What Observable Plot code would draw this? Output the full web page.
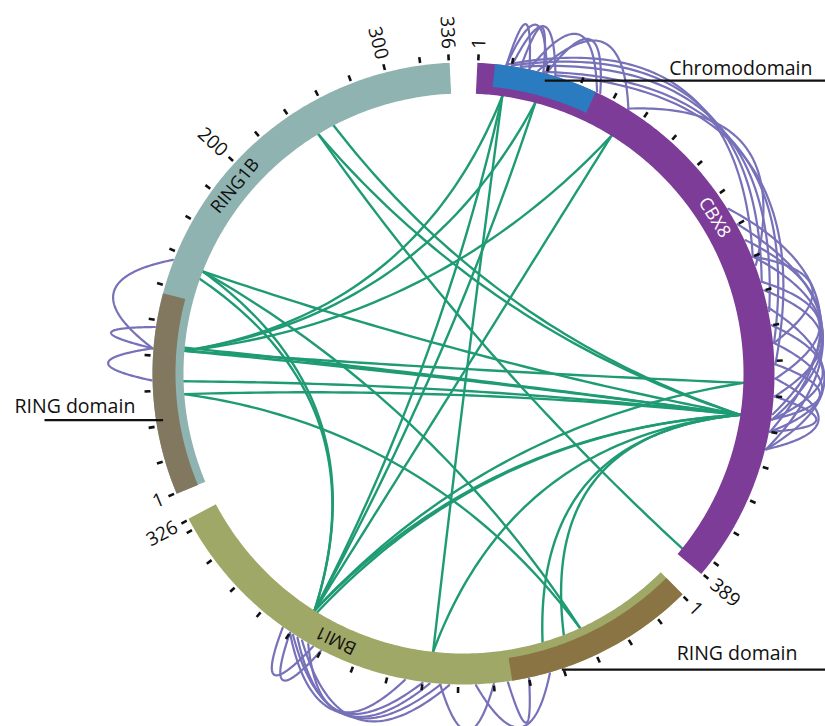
<!DOCTYPE html>
<html><head><meta charset="utf-8">
<script src="https://cdn.jsdelivr.net/npm/d3@7"></script>
<script src="https://cdn.jsdelivr.net/npm/@observablehq/plot@0.6"></script>
<style>html,body{margin:0;padding:0;background:#fff;} #chart svg{display:block;overflow:hidden;}</style>
</head><body><div id="chart"></div>
<script>
// ---------- DATA ----------
const proteins = ["CBX8", "BMI1", "RING1B"];
const lengths = [389, 326, 336];

const domainNames = ["Chromodomain", "RING domain", "RING domain"];
const domainProteins = ["CBX8", "BMI1", "RING1B"];
const domainStarts = [11, 1, 1];
const domainEnds = [69, 109, 115];

const tickStep = 20;
const tickLabelProteins = ["CBX8", "CBX8", "BMI1", "BMI1", "RING1B", "RING1B", "RING1B", "RING1B"];
const tickLabelResidues = [1, 389, 1, 326, 1, 200, 300, 336];

// inter-protein cross-links (green chords)
const linkProtein1 = ["CBX8","CBX8","CBX8","CBX8","CBX8","CBX8","CBX8","CBX8","CBX8","CBX8","CBX8","CBX8","CBX8","CBX8","CBX8","CBX8","CBX8","CBX8","CBX8","CBX8","CBX8","RING1B","RING1B","RING1B","RING1B","BMI1"];
const linkResidue1 = [17, 17, 17, 38, 38, 90, 90, 293, 293, 293, 293, 293, 293, 293, 293, 293, 293, 273, 273, 385, 293, 135, 135, 130, 57, 156];
const linkProtein2 = ["RING1B","BMI1","BMI1","RING1B","BMI1","RING1B","BMI1","RING1B","RING1B","RING1B","RING1B","RING1B","RING1B","BMI1","BMI1","BMI1","BMI1","BMI1","RING1B","RING1B","RING1B","BMI1","BMI1","BMI1","BMI1","CBX8"];
const linkResidue2 = [84, 156, 235, 84, 235, 84, 235, 84, 86, 65, 57, 135, 249, 235, 233, 87, 73, 235, 84, 249, 260, 62, 235, 235, 62, 293];

// intra-protein cross-links (purple loops)
const selfProtein = ["CBX8","CBX8","CBX8","CBX8","CBX8","CBX8","CBX8",
  "CBX8","CBX8","CBX8","CBX8","CBX8","CBX8",
  "CBX8","CBX8","CBX8","CBX8","CBX8","CBX8","CBX8","CBX8","CBX8","CBX8","CBX8","CBX8","CBX8",
  "BMI1","BMI1","BMI1","BMI1","BMI1","BMI1","BMI1","BMI1","BMI1","BMI1",
  "RING1B","RING1B","RING1B"];
const selfResidue1 = [17, 17, 20, 25, 30, 35, 40,
  17, 20, 25, 38, 45, 90,
  170, 190, 200, 180, 220, 230, 240, 250, 262, 270, 280, 200, 215,
  235, 238, 240, 232, 228, 245, 240, 150, 130, 112,
  135, 96, 84];
const selfResidue2 = [30, 40, 45, 38, 70, 90, 72,
  200, 215, 232, 250, 262, 205,
  300, 290, 250, 310, 280, 310, 293, 300, 293, 310, 300, 293, 270,
  156, 150, 160, 145, 170, 225, 220, 120, 88, 100,
  84, 84, 66];

// ---------- LAYOUT / STYLE ----------
const W = 825, H = 726, CX = 463, CY = 373;
const R_IN = 280, R_OUT = 311, R_DOM = 288;
const K = 0.328;
const GAP = (360 - K * d3.sum(lengths)) / 3;
const start = new Map();
{ let a = GAP / 2; proteins.forEach((p, i) => { start.set(p, a); a += lengths[i] * K + GAP; }); }
const angleOf = (p, r) => start.get(p) + (r - 0.5) * K;
const toRad = d => d * Math.PI / 180;
const px = (a, r) => r * Math.sin(toRad(a));
const py = (a, r) => -r * Math.cos(toRad(a));

const ringColor = {CBX8: "#7d3c98", BMI1: "#9fa866", RING1B: "#8fb3b0"};
const domainColor = ["#2a7bc0", "#8a7444", "#82775f"];
const chordColor = "#1f9b74";
const loopColor = "#7671b9";
const FONT = "'Open Sans', 'Noto Sans', sans-serif";

function arcPoints(a0, a1, r) {
  const n = Math.max(2, Math.ceil(Math.abs(a1 - a0) / 0.5));
  return d3.range(n + 1).map(i => { const a = a0 + (a1 - a0) * i / n; return {x: px(a, r), y: py(a, r)}; });
}

// rings
const ringMarks = proteins.map((p, i) =>
  Plot.line(arcPoints(start.get(p), start.get(p) + lengths[i] * K, (R_IN + R_OUT) / 2),
    {x: "x", y: "y", stroke: ringColor[p], strokeWidth: R_OUT - R_IN, strokeLinecap: "butt"}));

// domains
const domainMarks = domainNames.map((n, i) => {
  const p = domainProteins[i];
  const a0 = start.get(p) + (domainStarts[i] - 1) * K, a1 = start.get(p) + domainEnds[i] * K;
  return Plot.line(arcPoints(a0, a1, (R_DOM + R_OUT) / 2),
    {x: "x", y: "y", stroke: domainColor[i], strokeWidth: R_OUT - R_DOM, strokeLinecap: "butt"});
});

// ticks
const ticks = proteins.flatMap((p, i) => {
  const L = lengths[i];
  return [1, ...d3.range(tickStep, L, tickStep), L].map(r => ({a: angleOf(p, r)}));
});
const tickMark = Plot.link(ticks, {
  x1: d => px(d.a, 313.5), y1: d => py(d.a, 313.5), x2: d => px(d.a, 319.5), y2: d => py(d.a, 319.5),
  stroke: "#111", strokeWidth: 2.6
});

// tick labels
const tl = tickLabelProteins.map((p, i) => ({r: tickLabelResidues[i], a: angleOf(p, tickLabelResidues[i])}));
const norm = a => ((a % 360) + 360) % 360;
const tlRight = tl.filter(d => norm(d.a) < 180), tlLeft = tl.filter(d => norm(d.a) >= 180);
const RL = 325;
const tickLabelMarks = [
  Plot.text(tlRight, {x: d => px(d.a, RL), y: d => py(d.a, RL), text: d => String(d.r), rotate: d => d.a - 90,
    textAnchor: "start", lineAnchor: "middle", fontSize: 19, fontFamily: FONT, fill: "#111"}),
  Plot.text(tlLeft, {x: d => px(d.a, RL), y: d => py(d.a, RL), text: d => String(d.r), rotate: d => d.a + 90,
    textAnchor: "end", lineAnchor: "middle", fontSize: 19, fontFamily: FONT, fill: "#111"})
];

// protein name labels
const nameAt = {CBX8: 170, BMI1: 215, RING1B: 190};
const RM = (R_IN + R_OUT) / 2;
const nameMarks = [
  Plot.text(proteins.filter(p => p === "CBX8"), {x: p => px(angleOf(p, nameAt[p]), RM), y: p => py(angleOf(p, nameAt[p]), RM),
    text: p => p, rotate: p => angleOf(p, nameAt[p]), textAnchor: "middle", lineAnchor: "middle", fontSize: 18, fontFamily: FONT, fill: "white"}),
  Plot.text(proteins.filter(p => p !== "CBX8"), {x: p => px(angleOf(p, nameAt[p]), RM), y: p => py(angleOf(p, nameAt[p]), RM),
    text: p => p, rotate: p => angleOf(p, nameAt[p]), textAnchor: "middle", lineAnchor: "middle", fontSize: 18, fontFamily: FONT, fill: "#111"})
];

// chords (inter-links)
const chordData = linkProtein1.flatMap((p1, i) => {
  const a0 = angleOf(p1, linkResidue1[i]), a1 = angleOf(linkProtein2[i], linkResidue2[i]);
  const x0 = px(a0, R_IN), y0 = py(a0, R_IN), x2 = px(a1, R_IN), y2 = py(a1, R_IN);
  const cx = 0.2 * (x0 + x2), cy = 0.2 * (y0 + y2);
  return d3.range(61).map(j => { const t = j / 60, u = 1 - t;
    return {id: i, x: u*u*x0 + 2*u*t*cx + t*t*x2, y: u*u*y0 + 2*u*t*cy + t*t*y2}; });
});
const chordMark = Plot.line(chordData, {x: "x", y: "y", z: "id", stroke: chordColor, strokeWidth: 2.4});

// loops (intra-links): quadratic curve bulging outward
const loopData = selfProtein.flatMap((p, i) => {
  const a0 = angleOf(p, selfResidue1[i]), a1 = angleOf(p, selfResidue2[i]);
  const r0 = R_OUT + 1;
  const chord = 2 * r0 * Math.sin(toRad(Math.abs(a1 - a0) / 2));
  const h = 82 + 0.17 * chord;
  const am = (a0 + a1) / 2;
  const x0 = px(a0, r0), y0 = py(a0, r0), x2 = px(a1, r0), y2 = py(a1, r0);
  const cx = px(am, r0 + h), cy = py(am, r0 + h);
  return d3.range(81).map(j => { const t = j / 80, u = 1 - t;
    return {id: i, x: u*u*x0 + 2*u*t*cx + t*t*x2, y: u*u*y0 + 2*u*t*cy + t*t*y2}; });
});
const loopMark = Plot.line(loopData, {x: "x", y: "y", z: "id", stroke: loopColor, strokeWidth: 2.2});

// domain annotations
const annot = [
  {i: 0, res: 40, r: 304, toX: W - CX, textX: 812 - CX, anchor: "end", dy: -6},
  {i: 1, res: 81, r: 312, toX: W - CX, textX: 797 - CX, anchor: "end", dy: -10},
  {i: 2, res: 43, r: 304, toX: 44 - CX, textX: 14 - CX, anchor: "start", dy: -7}
].map(d => { const a = angleOf(domainProteins[d.i], d.res); return {...d, name: domainNames[d.i], ax: px(a, d.r), ay: py(a, d.r)}; });
const annotMarks = [
  Plot.link(annot, {x1: "ax", y1: "ay", x2: "toX", y2: "ay", stroke: "#111", strokeWidth: 2.2}),
  Plot.text(annot.filter(d => d.anchor === "end"), {x: "textX", y: d => d.ay + d.dy, text: "name", textAnchor: "end", lineAnchor: "bottom", fontSize: 19.5, fontFamily: FONT, fill: "#111"}),
  Plot.text(annot.filter(d => d.anchor === "start"), {x: "textX", y: d => d.ay + d.dy, text: "name", textAnchor: "start", lineAnchor: "bottom", fontSize: 19.5, fontFamily: FONT, fill: "#111"})
];

const chart = Plot.plot({
  width: W, height: H, margin: 0,
  x: {domain: [-CX, W - CX], range: [0, W], axis: null},
  y: {domain: [-CY, H - CY], range: [0, H], axis: null},
  style: {background: "white"},
  marks: [chordMark, loopMark, ...ringMarks, ...domainMarks, tickMark, ...tickLabelMarks, ...nameMarks, ...annotMarks]
});
document.getElementById("chart").appendChild(chart);
</script>
</body></html>
